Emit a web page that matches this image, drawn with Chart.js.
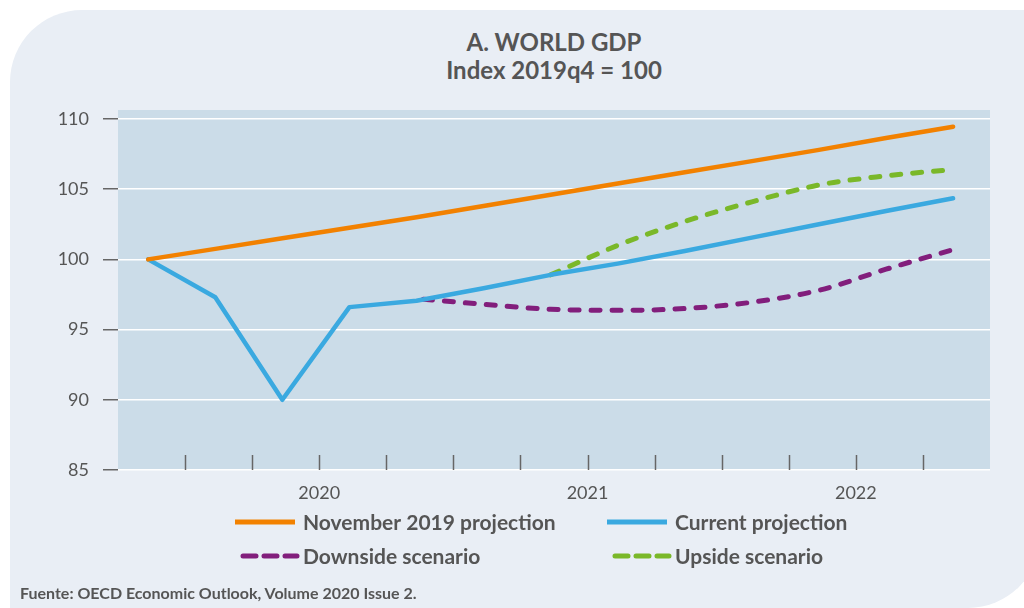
<!DOCTYPE html>
<html>
<head>
<meta charset="utf-8">
<script src="https://cdn.jsdelivr.net/npm/chart.js@4"></script>
<style>
    body { margin: 0; background: #fff; font-family: Lato, sans-serif; }
    #wrap { position: relative; width: 1024px; height: 608px; overflow: hidden; }
    #panel { position: absolute; left: 10px; top: 10px; width: 1030px; height: 598px; background: #e9eef5; border-radius: 72px 0 72px 0; }
    #title { position: absolute; left: 118px; width: 872px; top: 28px; text-align: center; color: #555; font-weight: bold; font-size: 24px; line-height: 28px; }
    #source { position: absolute; left: 20px; top: 584px; color: #555; font-weight: bold; font-size: 16px; line-height: 18px; }
    canvas { position: absolute; left: 0; top: 0; }
</style>
</head>
<body>
<div id="wrap">
    <div id="panel"></div>
    <div id="title">A. WORLD GDP<br>Index 2019q4 = 100</div>
    <canvas id="gdp" width="1024" height="608"></canvas>
    <div id="source">Fuente: OECD Economic Outlook, Volume 2020 Issue 2.</div>
</div>
<script>
// quarters 2019q4 .. 2022q4
const quarters = ['2019q4', '2020q1', '2020q2', '2020q3', '2020q4', '2021q1', '2021q2', '2021q3', '2021q4', '2022q1', '2022q2', '2022q3', '2022q4']
const nov2019 = [100, 100.75, 101.5, 102.25, 103.0, 103.8, 104.6, 105.4, 106.2, 107.0, 107.8, 108.65, 109.45]
const current = [100, 97.3, 90.0, 96.6, 97.05, 97.95, 98.9, 99.7, 100.6, 101.55, 102.5, 103.45, 104.35]
const downside = [null, null, null, null, 97.2, 96.8, 96.45, 96.37, 96.5, 96.95, 97.8, 99.3, 100.7]
const upside = [null, null, null, null, null, null, 98.9, 101.0, 102.7, 104.1, 105.3, 105.95, 106.4]
const years = ['2020', '2021', '2022']
const yTicks = [85, 90, 95, 100, 105, 110]

// quarter boundaries sit a touch right of the midpoint between data points
const boundaryShift = 0.55
// year label sits on the boundary between its 2nd and 3rd quarter
const yearPos = years.map((y, i) => 2 + 4 * i + boundaryShift)

function points(values) {
    return values.map((v, i) => ({ x: i, y: v }))
}

const textColor = '#555'

// plot background + quarter tick marks inside the bottom of the plot
const plotDecor = {
    id: 'plotDecor',
    beforeDraw(chart) {
        const a = chart.chartArea
        const ctx = chart.ctx
        ctx.save()
        ctx.fillStyle = '#cbdce8'
        ctx.fillRect(a.left, a.top, a.right - a.left, a.bottom - a.top)
        ctx.restore()
    },
    beforeDatasetsDraw(chart) {
        const a = chart.chartArea
        const ctx = chart.ctx
        const xs = chart.scales.x
        ctx.save()
        ctx.strokeStyle = '#666'
        ctx.lineWidth = 1.5
        for (let i = 0; i < quarters.length - 1; i++) {
            const px = Math.round(xs.getPixelForValue(i + boundaryShift)) + 0.5
            ctx.beginPath()
            ctx.moveTo(px, a.bottom - 15)
            ctx.lineTo(px, a.bottom)
            ctx.stroke()
        }
        ctx.restore()
    }
}

// two-column legend below the axis
const gridLegend = {
    id: 'gridLegend',
    afterDraw(chart) {
        const ctx = chart.ctx
        const cols = [303, 675]
        const rows = [522, 556]
        ctx.save()
        ctx.font = 'bold 21px Lato'
        ctx.textBaseline = 'middle'
        chart.data.datasets.forEach((ds, i) => {
            const x = cols[i % 2]
            const y = rows[Math.floor(i / 2)]
            ctx.strokeStyle = ds.borderColor
            ctx.lineWidth = 5
            ctx.lineCap = ds.borderDash ? 'round' : 'butt'
            ctx.setLineDash(ds.borderDash ? [13, 8] : [])
            ctx.beginPath()
            if (ds.borderDash) {
                ctx.moveTo(x - 60, y)
                ctx.lineTo(x - 6, y)
            } else {
                ctx.moveTo(x - 68, y)
                ctx.lineTo(x - 8, y)
            }
            ctx.stroke()
            ctx.setLineDash([])
            ctx.fillStyle = textColor
            ctx.fillText(ds.label, x, y + 1)
        })
        ctx.restore()
    }
}

const gdpChart = new Chart(document.getElementById('gdp'), {
    type: 'line',
    data: {
        datasets: [{
            label: 'November 2019 projection',
            data: points(nov2019),
            borderColor: '#f28100',
            borderWidth: 4.5,
            borderCapStyle: 'round'
        }, {
            label: 'Current projection',
            data: points(current),
            borderColor: '#3aa9e0',
            borderWidth: 4.5,
            borderCapStyle: 'round'
        }, {
            label: 'Downside scenario',
            data: points(downside),
            borderColor: '#821e7c',
            borderWidth: 5,
            borderDash: [9, 12],
            borderDashOffset: 14,
            borderCapStyle: 'round',
            cubicInterpolationMode: 'monotone'
        }, {
            label: 'Upside scenario',
            data: points(upside),
            borderColor: '#7ab829',
            borderWidth: 5,
            borderDash: [9, 12],
            borderCapStyle: 'round',
            cubicInterpolationMode: 'monotone'
        }]
    },
    options: {
        responsive: false,
        animation: false,
        layout: { padding: { left: 0, right: 34, top: 110, bottom: 96 } },
        elements: { point: { radius: 0 }, line: { tension: 0, borderJoinStyle: 'round' } },
        plugins: {
            legend: { display: false },
            tooltip: { enabled: false }
        },
        scales: {
            x: {
                type: 'linear',
                min: -0.45,
                max: 12.55,
                afterBuildTicks: s => { s.ticks = yearPos.map(v => ({ value: v })) },
                afterFit: s => { s.height = 42 },
                grid: { display: false },
                border: { display: false },
                ticks: {
                    callback: (v, i) => years[i],
                    color: textColor,
                    font: { family: 'Lato', size: 18 },
                    padding: 4,
                    maxRotation: 0,
                    autoSkip: false
                }
            },
            y: {
                min: 85,
                max: 110.64,
                afterBuildTicks: s => { s.ticks = yTicks.map(v => ({ value: v })) },
                afterFit: s => { s.width = 118 },
                grid: { color: '#ffffff', lineWidth: 1.5, tickColor: '#666', tickLength: 15, tickWidth: 1.5 },
                border: { display: false },
                ticks: {
                    color: textColor,
                    font: { family: 'Lato', size: 18 },
                    padding: 14
                }
            }
        }
    },
    plugins: [plotDecor, gridLegend]
})
</script>
</body>
</html>
